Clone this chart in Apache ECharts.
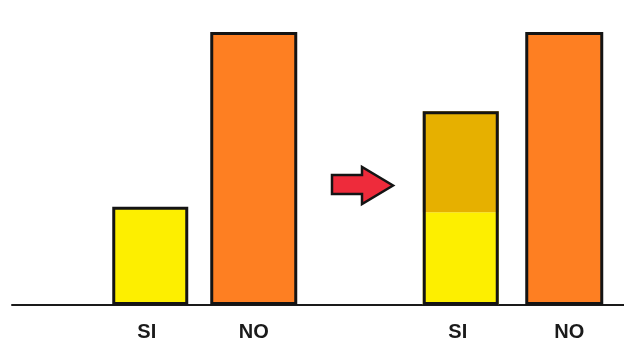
<!DOCTYPE html>
<html>
<head>
<meta charset="utf-8">
<style>html,body{margin:0;padding:0;background:#fff;}#chart{width:624px;height:345px;}</style>
<script src="https://cdn.jsdelivr.net/npm/echarts@6/dist/echarts.min.js"></script>
</head>
<body>
<div id="chart"></div>
<script>
// Categories (empty slots are spacing / arrow position)
const categories = ["", "SI", "NO", "", "SI", "NO"];
// Before (left group)
const siBefore = [null, 36, null, null, null, null];
const noBefore = [null, null, 100, null, null, null];
// After (right group): SI split in base + added part
const siAfterBase = [null, null, null, null, 34, null];
const siAfterAdded = [null, null, null, null, 37, null];
const noAfter = [null, null, null, null, null, 100];

const YELLOW = '#FDEF00', ORANGE = '#FE7F22', GOLD = '#E6B000', BORDER = '#141414';
const toD = a => a.map(v => v == null ? '-' : v);
const siAfterTotal = siAfterBase.map((v, i) => v == null ? '-' : v + siAfterAdded[i]);
// small per-label nudges (padding) to match the reference text placement
const labelPad = [[0,0,0,0], [0,7,0,0], [0,0,0,0], [0,0,0,0], [0,6,0,0], [0,0,0,10]];
const catData = categories.map((c, i) => ({value: c, textStyle: {padding: labelPad[i]}}));

const chart = echarts.init(document.getElementById('chart'), null, {renderer: 'canvas'});
const hiddenCat = () => ({type: 'category', gridIndex: 0, data: categories, show: false});
chart.setOption({
  animation: false,
  grid: [
    {left: -5, right: 8, top: 32, bottom: 40, outerBoundsMode: 'none', containLabel: false},
    {left: 12, right: 0, top: 32, bottom: 40, outerBoundsMode: 'none', containLabel: false}
  ],
  xAxis: [
    {type: 'category', gridIndex: 0, data: catData,
     axisLine: {show: false}, axisTick: {show: false},
     axisLabel: {margin: 17, fontSize: 20, fontWeight: 'bold', color: '#1a1a1a', fontFamily: 'Liberation Sans, Arial, sans-serif', interval: 0}},
    hiddenCat(),
    hiddenCat(),
    {type: 'value', gridIndex: 1, min: 0, max: 1, splitLine: {show: false},
     axisLabel: {show: false}, axisTick: {show: false},
     axisLine: {show: true, lineStyle: {color: '#1a1a1a', width: 2}}}
  ],
  yAxis: [
    {type: 'value', gridIndex: 0, min: 0, max: 100, show: false},
    {type: 'value', gridIndex: 1, min: 0, max: 100, show: false}
  ],
  series: [
    {type: 'bar', xAxisIndex: 0, yAxisIndex: 0, data: toD(siBefore), barWidth: 76, barGap: '-100%',
     itemStyle: {color: YELLOW, borderColor: BORDER, borderWidth: 3}},
    {type: 'bar', xAxisIndex: 0, yAxisIndex: 0, stack: 'after', data: toD(siAfterBase), barWidth: 76, barGap: '-100%',
     itemStyle: {color: YELLOW, borderWidth: 0}},
    {type: 'bar', xAxisIndex: 0, yAxisIndex: 0, stack: 'after', data: toD(siAfterAdded), barWidth: 76, barGap: '-100%',
     itemStyle: {color: GOLD, borderWidth: 0}},
    {type: 'bar', xAxisIndex: 0, yAxisIndex: 0, data: siAfterTotal, barWidth: 76, barGap: '-100%', z: 3,
     itemStyle: {color: 'rgba(0,0,0,0)', borderColor: BORDER, borderWidth: 3}},
    {type: 'bar', xAxisIndex: 1, yAxisIndex: 0, data: toD(noBefore), barWidth: 87, barGap: '-100%',
     itemStyle: {color: ORANGE, borderColor: BORDER, borderWidth: 3}},
    {type: 'bar', xAxisIndex: 2, yAxisIndex: 0, data: toD(noAfter), barWidth: 78, barGap: '-100%',
     itemStyle: {color: ORANGE, borderColor: BORDER, borderWidth: 3}}
  ],
  graphic: [
    {type: 'polygon', z: 10,
     shape: {points: [[332,175],[362,175],[362,167],[393,185.5],[362,204],[362,194],[332,194]]},
     style: {fill: '#EE2B3B', stroke: '#141414', lineWidth: 2.5, lineJoin: 'miter'}}
  ]
});
</script>
</body>
</html>
